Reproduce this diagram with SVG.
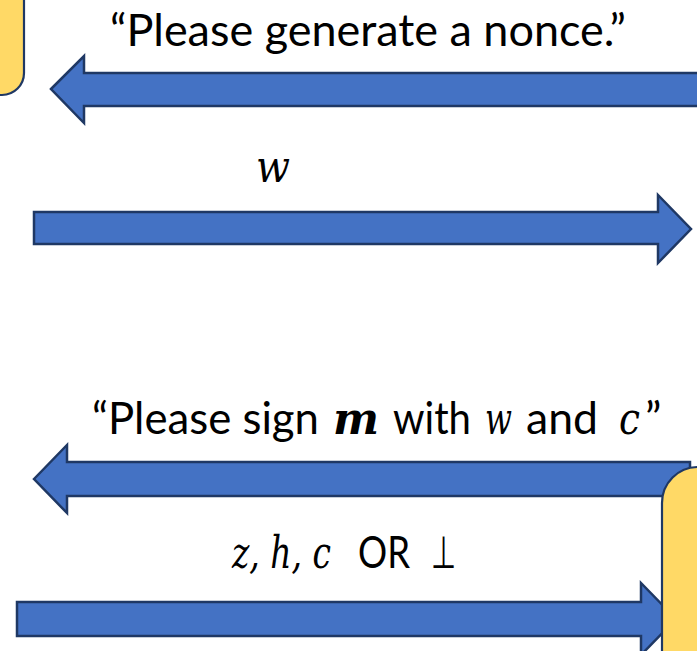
<svg xmlns="http://www.w3.org/2000/svg" width="697" height="651" viewBox="0 0 697 651">
<style>
.party{fill:#ffd966;stroke:#1f3864;stroke-width:2.2}
.arrow{fill:#4472c4;stroke:#1f3864;stroke-width:2.5;stroke-linejoin:miter}
.lbl{font-family:Lato,"Open Sans","Liberation Sans",sans-serif;font-size:45px;fill:#000}
.math{font-family:"DejaVu Serif","Liberation Serif",serif;font-style:italic}
.mb{font-family:"DejaVu Serif","Liberation Serif",serif;font-style:italic;font-weight:bold}
</style>
<rect width="697" height="651" fill="#ffffff"/>
<g id="connectors">
  <path class="arrow" d="M51,89 L84,56 L84,73 L720,73 L720,106 L84,106 L84,123 Z"/>
  <path class="arrow" d="M34,212 L658,212 L658,195 L691,229 L658,263 L658,244 L34,244 Z"/>
  <path class="arrow" d="M34,479 L67,445 L67,462 L690,462 L690,496 L67,496 L67,513 Z"/>
  <path class="arrow" d="M17,602 L641,602 L641,583 L676,619 L641,655 L641,636 L17,636 Z"/>
  <g id="labels">
    <text class="lbl" x="110" y="46" font-size="46" textLength="516" lengthAdjust="spacingAndGlyphs">“Please generate a nonce.”</text>
    <text class="lbl math" x="256" y="182" font-size="46" textLength="34" lengthAdjust="spacingAndGlyphs">w</text>
    <text class="lbl" x="92" y="434" textLength="227" lengthAdjust="spacingAndGlyphs">“Please sign</text>
    <text class="lbl mb" x="333" y="434" font-size="44" textLength="46" lengthAdjust="spacingAndGlyphs">m</text>
    <text class="lbl" x="393" y="434" textLength="78" lengthAdjust="spacingAndGlyphs">with</text>
    <text class="lbl math" x="485" y="434" font-size="44" textLength="27" lengthAdjust="spacingAndGlyphs">w</text>
    <text class="lbl" x="526" y="434" textLength="72" lengthAdjust="spacingAndGlyphs">and</text>
    <text class="lbl math" x="619" y="434" font-size="44" textLength="21" lengthAdjust="spacingAndGlyphs">c</text>
    <text class="lbl" x="645" y="434">”</text>
    <text class="lbl math" x="232" y="568" font-size="34" textLength="99" lengthAdjust="spacingAndGlyphs">z, h, c</text>
    <text class="lbl" x="358" y="568" font-size="42" textLength="52" lengthAdjust="spacingAndGlyphs">OR</text>
    <text class="lbl" x="431" y="568" font-size="42" font-family="'DejaVu Sans',sans-serif" textLength="25" lengthAdjust="spacingAndGlyphs">⊥</text>
  </g>
</g>
<g id="node-top-left">
  <rect class="party" x="-100" y="-100" width="124" height="195" rx="22" ry="22"/>
</g>
<g id="node-bottom-right">
  <rect class="party" x="662" y="467" width="100" height="260" rx="36" ry="36"/>
</g>
</svg>
